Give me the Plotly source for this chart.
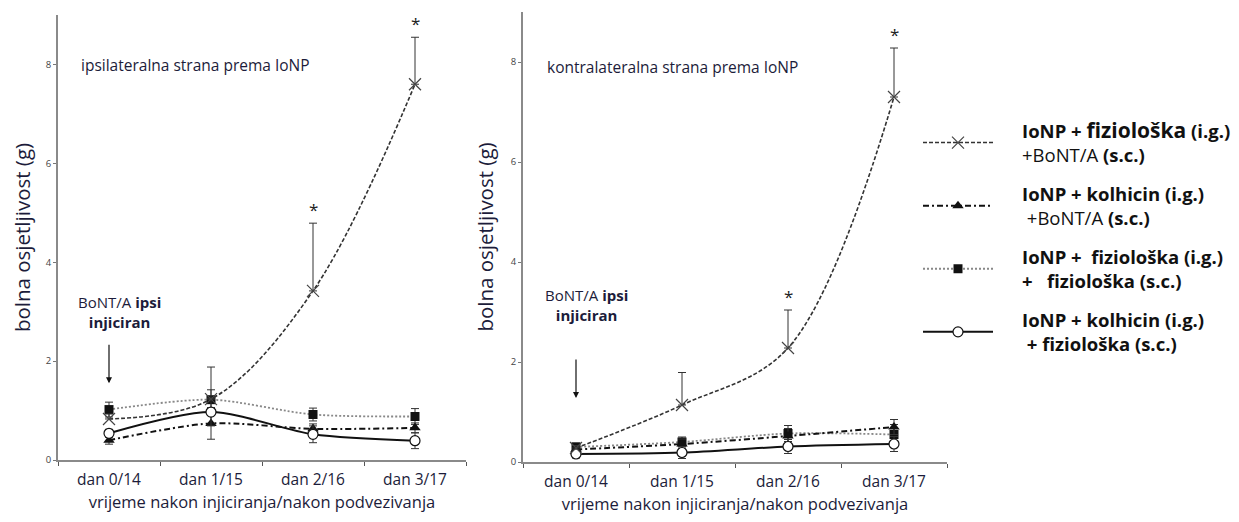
import plotly.graph_objects as go

categories = ["dan 0/14", "dan 1/15", "dan 2/16", "dan 3/17"]
y_ticks = [0, 2, 4, 6, 8]

PAD = "\u00a0" * 5
BIG = "<span style='font-size:21px'><b>fiziološka</b></span>"
series_names = [
    PAD + "<b>IoNP + </b>" + BIG + "<b> (i.g.)</b><br>" + PAD + "+BoNT/A <b>(s.c.)</b>",
    PAD + "<b>IoNP + kolhicin (i.g.)</b><br>" + PAD + "\u00a0+BoNT/A <b>(s.c.)</b>",
    PAD + "<b>IoNP +  fiziološka (i.g.)</b><br>" + PAD + "<b>+   fiziološka (s.c.)</b>",
    PAD + "<b>IoNP + kolhicin (i.g.)</b><br>" + PAD + "\u00a0<b>+ fiziološka (s.c.)</b>",
]

# ipsilateral panel
ipsi_fiz_bont = [0.83, 1.23, 3.42, 7.6]
ipsi_kol_bont = [0.40, 0.74, 0.63, 0.65]
ipsi_fiz_fiz = [1.02, 1.22, 0.92, 0.88]
ipsi_kol_fiz = [0.54, 0.97, 0.52, 0.39]
ipsi_err_fiz_bont = [0.10, 0.65, 1.37, 0.95]
ipsi_err_kol_bont = [0.08, 0.32, 0.10, 0.10]
ipsi_err_fiz_fiz = [0.15, 0.20, 0.13, 0.16]
ipsi_err_kol_fiz = [0.08, 0.28, 0.17, 0.16]

# contralateral panel
contra_fiz_bont = [0.28, 1.14, 2.28, 7.3]
contra_kol_bont = [0.25, 0.36, 0.52, 0.70]
contra_fiz_fiz = [0.30, 0.40, 0.57, 0.55]
contra_kol_fiz = [0.16, 0.19, 0.31, 0.36]
contra_err_fiz_bont = [0.05, 0.65, 0.76, 0.98]
contra_err_kol_bont = [0.08, 0.10, 0.15, 0.15]
contra_err_fiz_fiz = [0.08, 0.10, 0.16, 0.20]
contra_err_kol_fiz = [0.08, 0.12, 0.14, 0.15]

significant = [False, False, True, True]

panel_titles = ["ipsilateralna strana prema IoNP", "kontralateralna strana prema IoNP"]
y_title = "bolna osjetljivost (g)"
x_title = "vrijeme nakon injiciranja/nakon podvezivanja"

FONT = "'Open Sans', Lato, sans-serif"
TXT = "#1c1c3a"

styles = [
    dict(line=dict(color="#333333", width=1.6, dash="4px,2px", shape="spline", smoothing=1.0),
         marker=dict(symbol="x-thin", size=12, line=dict(color="#444444", width=1.2), color="#444444"),
         sym=False),
    dict(line=dict(color="#111111", width=2, dash="6px,3px,2px,3px", shape="spline", smoothing=0.8),
         marker=dict(symbol="triangle-up", size=10, color="#111111"), sym=True),
    dict(line=dict(color="#888888", width=1.8, dash="2px,2px", shape="spline", smoothing=0.8),
         marker=dict(symbol="square", size=9, color="#111111"), sym=True),
    dict(line=dict(color="#111111", width=2, shape="spline", smoothing=0.8),
         marker=dict(symbol="circle", size=10, color="white", line=dict(color="#111111", width=1.2)), sym=True),
]

panels = [
    ([ipsi_fiz_bont, ipsi_kol_bont, ipsi_fiz_fiz, ipsi_kol_fiz],
     [ipsi_err_fiz_bont, ipsi_err_kol_bont, ipsi_err_fiz_fiz, ipsi_err_kol_fiz]),
    ([contra_fiz_bont, contra_kol_bont, contra_fiz_fiz, contra_kol_fiz],
     [contra_err_fiz_bont, contra_err_kol_bont, contra_err_fiz_fiz, contra_err_kol_fiz]),
]

fig = go.Figure()
# page body has an 8px margin: figure is offset by (8, 8) in the window
OFF = 8
W, H = 1239 - OFF, 522 - OFF


def px_x(p):
    return (p - OFF) / W


def px_y(p):
    return 1 - (p - OFF) / H


order = [2, 1, 3, 0]
for p, (vals, errs) in enumerate(panels):
    xa = "x" if p == 0 else "x2"
    ya = "y" if p == 0 else "y2"
    for i in order:
        st = styles[i]
        err = dict(type="data", array=errs[i], color="#333333", thickness=1, width=4, visible=True)
        if not st["sym"]:
            err.update(symmetric=False, arrayminus=[0] * len(errs[i]))
        fig.add_trace(go.Scatter(
            x=categories, y=vals[i], mode="lines+markers",
            name=series_names[i], legendgroup=f"g{i}", legendrank=i,
            showlegend=(p == 0),
            line=st["line"], marker=st["marker"], error_y=err,
            xaxis=xa, yaxis=ya,
        ))

x_dom = [[px_x(58), px_x(466)], [px_x(523), px_x(947)]]
y_dom = [[px_y(460), px_y(15)], [px_y(462), px_y(12)]]
for p in range(2):
    sx = "" if p == 0 else "2"
    fig.update_layout(**{
        f"xaxis{sx}": dict(
            domain=x_dom[p], type="category", categoryorder="array", categoryarray=categories,
            range=[-0.5, 3.5], showline=True, linecolor="#8a8a8a", linewidth=2,
            ticks="outside", tickson="boundaries", ticklen=4, tickcolor="#555555", tickwidth=1,
            showgrid=False, zeroline=False, ticklabelstandoff=4,
            tickfont=dict(family=FONT, size=15.5, color=TXT),
            title=dict(text=x_title, font=dict(family=FONT, size=16.5, color=TXT), standoff=3),
            anchor="y" if p == 0 else "y2", automargin=False,
        ),
        f"yaxis{sx}": dict(
            domain=y_dom[p], range=[0, 9], tickvals=y_ticks, showline=True,
            linecolor="#8a8a8a", linewidth=2, ticks="outside", ticklen=3, tickcolor="#777777",
            showgrid=False, zeroline=False,
            tickfont=dict(family=FONT, size=9.5, color="#444444"),
            title=dict(text=y_title, font=dict(family=FONT, size=20.5, color=TXT), standoff=11),
            anchor="x" if p == 0 else "x2", automargin=False,
        ),
    })

annotations = []
title_pos = [(79, 65), (545, 67)]
note_y = [2.55, 2.7]
arrow_tip = [1.55, 1.28]
for p in range(2):
    xr = "x" if p == 0 else "x2"
    yr = "y" if p == 0 else "y2"
    vals, errs = panels[p]
    annotations.append(dict(
        text=panel_titles[p], xref="paper", yref="paper",
        x=px_x(title_pos[p][0]), y=px_y(title_pos[p][1]), xanchor="left", yanchor="middle",
        showarrow=False, font=dict(family=FONT, size=15.5, color=TXT)))
    annotations.append(dict(
        text="BoNT/A <b>ipsi</b><br><b>injiciran</b>", xref=xr, yref=yr,
        x=categories[0], y=note_y[p],
        xshift=10, xanchor="center", yanchor="bottom", showarrow=False, align="center",
        font=dict(family=FONT, size=15, color=TXT)))
    annotations.append(dict(
        text="", xref=xr, yref=yr, x=categories[0], y=arrow_tip[p],
        ax=0, ay=-40, showarrow=True, arrowhead=2, arrowsize=1, arrowwidth=1.2,
        arrowcolor="#111111"))
    for k, c in enumerate(categories):
        if significant[k]:
            annotations.append(dict(
                text="*", xref=xr, yref=yr, x=c, y=vals[0][k] + errs[0][k],
                yshift=0, yanchor="bottom", showarrow=False,
                font=dict(family=FONT, size=17, color="#222222")))

fig.update_layout(
    width=W, height=H, margin=dict(l=0, r=0, t=0, b=0),
    paper_bgcolor="white", plot_bgcolor="white",
    annotations=annotations,
    legend=dict(
        x=px_x(918), y=px_y(112), xanchor="left", yanchor="top",
        traceorder="grouped", tracegroupgap=12, itemwidth=70,
        font=dict(family=FONT, size=18.5, color="#111111"),
        bgcolor="rgba(0,0,0,0)", valign="middle",
    ),
    showlegend=True,
)

fig.write_html("out.html")
